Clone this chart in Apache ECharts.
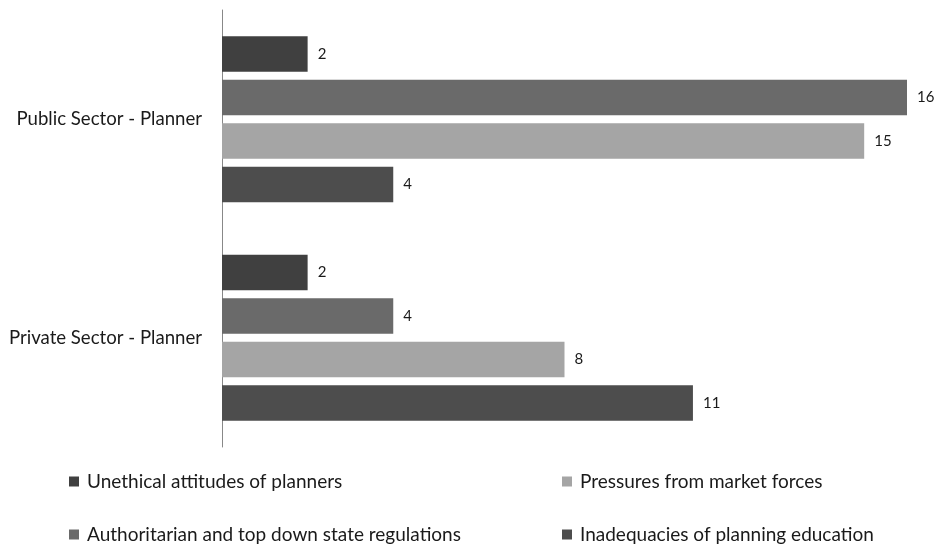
<!DOCTYPE html>
<html><head><meta charset="utf-8">
<script src="https://cdn.jsdelivr.net/npm/echarts@6/dist/echarts.min.js"></script>
<style>html,body{margin:0;padding:0;background:#fff}#c{width:939px;height:545px}</style>
</head><body><div id="c"></div>
<script>
const categories = ["Public Sector - Planner", "Private Sector - Planner"];
const seriesNames = ["Unethical attitudes of planners", "Authoritarian and top down state regulations", "Pressures from market forces", "Inadequacies of planning education"];
const unethical = [2, 2];
const authoritarian = [16, 4];
const pressures = [15, 8];
const inadequacies = [4, 11];
const colors = ["#404040", "#6a6a6a", "#a5a5a5", "#4d4d4d"];
const values = [unethical, authoritarian, pressures, inadequacies];
const FONT = "Lato";
const legendPos = [[69, 484], [69, 537], [562, 484], [562, 537]];
const chart = echarts.init(document.getElementById('c'));
chart.setOption({
  animation: false,
  textStyle: {fontFamily: FONT},
  grid: {left: 222, right: 32, top: 10, bottom: 98},
  xAxis: {type: 'value', min: 0, max: 16, show: false},
  yAxis: {type: 'category', data: categories, inverse: true,
    axisLine: {lineStyle: {color: '#888', width: 1}}, axisTick: {show: false},
    axisLabel: {fontSize: 18.6, color: '#1a1a1a', fontFamily: FONT, margin: 20}},
  legend: seriesNames.map((n, i) => ({
    data: [n], left: legendPos[i][0], top: legendPos[i][1] - 12, padding: 0,
    itemWidth: 10, itemHeight: 10, icon: 'rect', itemGap: 0,
    textStyle: {fontSize: 19, color: '#1a1a1a', fontFamily: FONT, padding: [0, 0, 0, 3]}
  })),
  series: seriesNames.map((n, i) => ({
    name: n, type: 'bar', data: values[i], barGap: '22%', barCategoryGap: '24%',
    itemStyle: {color: colors[i]},
    label: {show: true, position: 'right', distance: 10, fontSize: 15, color: '#1a1a1a', fontFamily: FONT}
  }))
});
</script></body></html>
